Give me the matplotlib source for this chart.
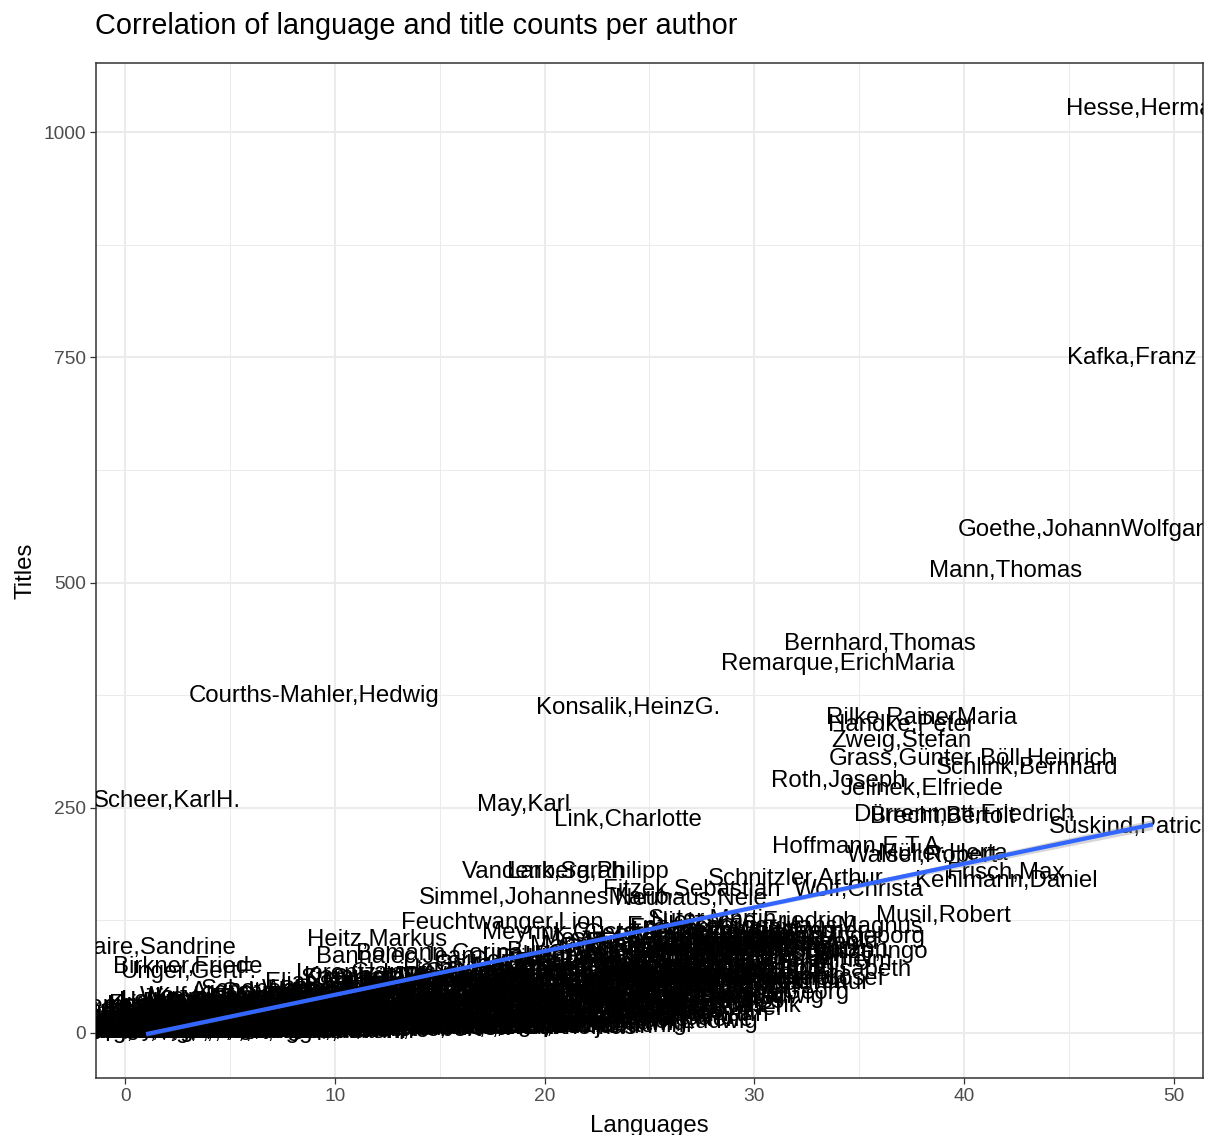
import numpy as np
import matplotlib.pyplot as plt

plt.rcParams['font.family'] = ['Liberation Sans', 'DejaVu Sans']

# authors whose labels stand out from the crowd
named_authors = [
    "Hesse,Hermann", "Kafka,Franz", "Goethe,JohannWolfgang", "Mann,Thomas",
    "Bernhard,Thomas", "Remarque,ErichMaria", "Courths-Mahler,Hedwig",
    "Konsalik,HeinzG.", "Rilke,RainerMaria", "Handke,Peter", "Zweig,Stefan",
    "Grass,Günter", "Böll,Heinrich", "Schlink,Bernhard", "Roth,Joseph",
    "Jelinek,Elfriede", "Dürrenmatt,Friedrich", "Brecht,Bertolt",
    "Süskind,Patrick", "Scheer,KarlH.", "May,Karl", "Link,Charlotte",
    "Hoffmann,E.T.A.", "Walser,Robert", "Müller,Herta", "Frisch,Max",
    "Kehlmann,Daniel", "Schnitzler,Arthur", "Wolf,Christa",
    "Vandenberg,Philipp", "Lark,Sarah", "Simmel,JohannesMario",
    "Fitzek,Sebastian", "Neuhaus,Nele", "Feuchtwanger,Lion", "Meyrink,Gustav",
    "Suter,Martin", "Musil,Robert", "Heitz,Markus", "Delaire,Sandrine",
    "Birkner,Friede", "Unger,GertF.", "Lorentz,Iny", "Bannalec,Jean-Luc",
    "Bomann,Corina", "Schulze,Ingo", "Bachmann,Ingeborg",
    "Enzensberger,HansMagnus", "Nietzsche,Friedrich", "Vermes,Timur",
    "Seethaler,Robert", "Erpenbeck,Jenny",
]
named_languages = [
    49, 48, 46, 42, 36, 34, 9, 24, 38, 37, 37, 37, 44, 43, 34, 38, 40, 39,
    48, 2, 19, 24, 35, 38, 39, 42, 42, 32, 35, 21, 21, 20, 27, 27, 18, 21,
    28, 39, 12, 1, 3, 3, 11, 14, 15, 35, 33, 31, 30, 32, 27, 27,
]
named_titles = [
    1026, 749, 558, 513, 432, 409, 374, 361, 350, 342, 324, 304, 304, 294,
    280, 271, 242, 240, 228, 257, 253, 236, 206, 196, 198, 177, 169, 171,
    159, 179, 179, 150, 159, 149, 122, 111, 125, 130, 103, 94, 73, 67, 65,
    84, 88, 90, 106, 117, 123, 55, 42, 67,
]

# the long tail of authors with few languages and titles
cluster_authors = [
    # 1 language
    "Andersch,Alfred", "Arjouni,Jakob", "Bachér,Ingrid", "Becker,Jurek",
    "Benn,Gottfried", "Bichsel,Peter", "Bienek,Horst", "Biermann,Wolf",
    "Bobrowski,Johannes", "Borchert,Wolfgang", "Born,Nicolas", "Braun,Volker",
    "Brussig,Thomas", "Lenz,Hermann", "Lehr,Thomas", "Liebmann,Irina",
    "Lange-Müller,Katja", "Kling,Thomas", "Kolbe,Uwe",
    # 2
    "Celan,Paul", "Dorst,Tankred", "Domin,Hilde", "Eich,Günter",
    "Fichte,Hubert", "Fleißer,Marieluise", "Franck,Julia", "Fried,Erich",
    "Fühmann,Franz", "Genazino,Wilhelm", "Goetz,Rainald", "Gstrein,Norbert",
    "Krechel,Ursula", "Kumpfmüller,Michael", "Lentz,Michael",
    "Mosebach,Martin", "Ostermaier,Albert",
    # 3
    "Hacks,Peter", "Hahn,Ulla", "Härtling,Peter", "Hein,Christoph",
    "Heißenbüttel,Helmut", "Hermann,Judith", "Heym,Stefan",
    "Hildesheimer,Wolfgang", "Hochhuth,Rolf", "Hohler,Franz", "Huchel,Peter",
    "Politycki,Matthias", "Rakusa,Ilma", "Schertenleib,Hansjörg",
    "Stadler,Arnold",
    # 4
    "Jandl,Ernst", "Johnson,Uwe", "Jünger,Ernst", "Kaschnitz,MarieLuise",
    "Kempowski,Walter", "Kirsch,Sarah", "Kluge,Alexander", "Koeppen,Wolfgang",
    "Streeruwitz,Marlene", "Wagner,Jan", "Zaimoglu,Feridun",
    # 5
    "Krausser,Helmut", "Kronauer,Brigitte", "Kunert,Günter", "Kunze,Reiner",
    "Lewitscharoff,Sibylle", "Loest,Erich", "Maron,Monika",
    "Mayröcker,Friederike", "Draesner,Ulrike", "Hettche,Thomas",
    "Kirchhoff,Bodo",
    # 6
    "Meckel,Christoph", "Menasse,Robert", "Moers,Walter", "Morgner,Irmtraud",
    "Nadolny,Sten", "Nossack,HansErich", "Peltzer,Ulrich", "Setz,ClemensJ.",
    # 7
    "Keyserling,Eduardvon", "Ortheil,HannsJosef", "Özdamar,EmineSevgi",
    "Plenzdorf,Ulrich", "Ransmayr,Christoph", "Richter,HansWerner",
    "Stangl,Thomas", "Steinaecker,Thomasvon",
    # 8
    "Rinser,Luise", "Rühmkorf,Peter", "Schädlich,HansJoachim", "Schami,Rafik",
    "Schlesinger,Klaus", "Schmidt,Arno", "Wolf,Ror", "Melle,Thomas",
    # 9
    "Kuhn,Dieter", "Schrott,Raoul", "Sebald,W.G.", "Seghers,Anna",
    "Strittmatter,Erwin", "Strauß,Botho", "Kermani,Navid",
    # 10
    "Timm,Uwe", "Treichel,HansUlrich", "Tellkamp,Uwe", "Walser,Martin",
    "Weiss,Peter", "Wellershoff,Dieter", "Röggla,Kathrin", "Roes,Michael",
    # 11 - 15
    "Wohmann,Gabriele", "Zeh,Juli", "Zuckmayer,Carl", "Zweig,Arnold",
    "Kästner,Erich", "Funke,Cornelia", "Ende,Michael", "Preußler,Otfried",
    "Boie,Kirsten",
    "Nöstlinger,Christine", "Pausewang,Gudrun", "Steinhöfel,Andreas",
    "Klüpfel,Volker", "Kobr,Michael",
    "Föhr,Andreas", "Falk,Rita", "Löhr,Robert", "Schätzing,Frank",
    "Noll,Ingrid", "Schenkel,AndreaMaria", "Raabe,Melanie",
    "Poznanski,Ursula",
    # 16 - 20
    "Arenz,Ewald", "Lind,Hera", "Hauptmann,Gerhart", "Fontane,Theodor",
    "Storm,Theodor",
    "Keller,Gottfried", "Heine,Heinrich", "Lessing,GottholdEphraim",
    "Kleist,Heinrichvon", "Büchner,Georg",
    "Hölderlin,Friedrich", "Novalis", "Eichendorff,Josephvon",
    "Mörike,Eduard",
    "Stifter,Adalbert", "Grillparzer,Franz", "Raabe,Wilhelm",
    "Hebbel,Friedrich",
    "Wedekind,Frank", "Hofmannsthal,Hugovon", "Trakl,Georg", "Werfel,Franz",
    # 21 - 25
    "Döblin,Alfred", "Tucholsky,Kurt", "Kraus,Karl", "Broch,Hermann",
    "Canetti,Elias", "Benjamin,Walter", "Morgenstern,Christian",
    "Busch,Wilhelm", "Ringelnatz,Joachim",
    "Lasker-Schüler,Else", "Heym,Georg", "Mann,Heinrich", "Mann,Klaus",
    "Wassermann,Jakob",
    "Polgar,Alfred", "Horváth,Ödönvon", "Toller,Ernst", "Kaiser,Georg",
    "Sternheim,Carl", "Keun,Irmgard", "Kolb,Annette", "Seidel,Ina",
    "Ebner-Eschenbach,Mariavon",
    # 26 - 32
    "Spyri,Johanna", "Gotthelf,Jeremias", "Meyer,ConradFerdinand",
    "Hauff,Wilhelm", "Grimm,Jacob",
    "Grimm,Wilhelm", "Bechstein,Ludwig", "Gerstäcker,Friedrich",
    "Ganghofer,Ludwig",
    "Marlitt,Eugenie", "Heyse,Paul", "Freytag,Gustav", "Sudermann,Hermann",
    "Fallada,Hans", "Kellermann,Bernhard", "Brod,Max", "Perutz,Leo",
    "Hohlbein,Wolfgang",
    "Wiechert,Ernst", "Carossa,Hans", "Bergengruen,Werner",
    "Kracht,Christian",
    "Jahnn,HansHenny", "Schneider,Reinhold",
    "Langgässer,Elisabeth", "Kasack,Hermann",
]
cluster_languages = (
    [1] * 19 + [2] * 17 + [3] * 15 + [4] * 11 + [5] * 11 + [6] * 8 + [7] * 8
    + [8] * 8 + [9] * 7 + [10] * 8
    + [11] * 4 + [12] * 5 + [13] * 5 + [14] * 4 + [15] * 4
    + [16] * 5 + [17] * 5 + [18] * 4 + [19] * 4 + [20] * 4
    + [21] * 4 + [22] * 5 + [23] * 5 + [24] * 4 + [25] * 5
    + [26] * 5 + [27] * 4 + [28] * 4 + [29] * 5 + [30] * 4 + [31] * 2
    + [32] * 2
)
cluster_titles = [
    2, 5, 1, 9, 14, 22, 3, 30, 7, 18, 11, 26, 4, 1, 3, 2, 6, 1, 4,
    1, 6, 13, 24, 3, 17, 9, 31, 2, 20, 5, 12, 1, 3, 2, 7, 1,
    2, 8, 28, 15, 4, 21, 34, 10, 1, 18, 6, 3, 1, 5, 2,
    3, 12, 38, 7, 24, 1, 16, 30, 5, 2, 9,
    5, 11, 20, 2, 35, 14, 27, 8, 3, 6, 1,
    4, 17, 29, 10, 22, 1, 3, 7,
    39, 6, 15, 25, 12, 2, 4, 1,
    31, 9, 19, 44, 3, 14, 2, 6,
    36, 7, 26, 40, 12, 4, 2,
    33, 8, 18, 47, 3, 13, 1, 5,
    22, 6, 38, 15,
    50, 28, 10, 42, 4,
    20, 35, 7, 54, 14,
    46, 24, 3, 60,
    30, 9, 52, 17,
    40, 62, 5, 26, 12,
    34, 70, 8, 48, 20,
    57, 14, 30, 6,
    42, 75, 10, 24,
    64, 36, 15, 50,
    82, 28, 12, 56,
    70, 40, 22, 90, 8,
    54, 32, 96, 18, 75,
    44, 86, 25, 62,
    100, 38, 70, 20, 55,
    80, 30, 104, 52, 66,
    92, 40, 110, 60,
    84, 50, 115, 72,
    100, 62, 88, 108, 112,
    76, 95, 112, 98,
    82, 100,
    70, 92,
]

# further authors in the middle of the crowd
more_authors = [
    "Rosendorfer,Herbert", "Danella,Utta", "Brückner,Christine",
    "Wolf,Klaus-Peter", "Kinkel,Tanja", "Gablé,Rebecca",
    "Hennen,Bernhard", "Schwanitz,Dietrich", "Precht,RichardDavid",
    "Sloterdijk,Peter",
    "Habermas,Jürgen", "Adorno,TheodorW.", "Horkheimer,Max", "Arendt,Hannah",
    "Heidegger,Martin", "Freud,Sigmund", "Marx,Karl", "Engels,Friedrich",
    "Kant,Immanuel", "Hegel,GeorgWilhelmFriedrich", "Schopenhauer,Arthur",
    "Jaspers,Karl",
    "Buber,Martin", "Fromm,Erich", "Jung,CarlGustav", "Elias,Norbert",
    "Luhmann,Niklas", "Weber,Max", "Simmel,Georg", "Kracauer,Siegfried",
    "Bloch,Ernst",
    "Spengler,Oswald", "Steiner,Rudolf", "Lenz,Siegfried", "Hoppe,Felicitas",
    "Herrndorf,Wolfgang", "Regener,Sven", "Kaminer,Wladimir",
    "Schirach,Ferdinandvon",
    "Kling,Marc-Uwe", "Stamm,Peter", "Bärfuss,Lukas", "Hürlimann,Thomas",
    "Muschg,Adolf",
    "Loher,Dea", "Widmer,Urs", "Walser,Alissa", "Glavinic,Thomas",
    "Haas,Wolf",
    "Köhlmeier,Michael", "Haushofer,Marlen", "Frischmuth,Barbara",
    "Turrini,Peter", "Roth,Gerhard",
    "Gauß,Karl-Markus", "Aichinger,Ilse", "Hackl,Erich", "Geiger,Arno",
    "Stanišić,Saša",
    "Beyer,Marcel", "Grünbein,Durs", "Hacker,Katharina", "Schalansky,Judith",
    "Kuckart,Judith",
    "Ruge,Eugen", "Seiler,Lutz", "Meyer,Clemens", "Hein,Jakob",
    "Rosenlöcher,Thomas", "Dückers,Tanja",
    "Illies,Florian", "Goosen,Frank", "Strunk,Heinz", "Kerkeling,Hape",
    "Jaud,Tommy",
    "Bronsky,Alina", "Hirsch,Eike", "Sparschuh,Jens", "Rothmann,Ralf",
    "Lebert,Benjamin", "Moritz,KarlPhilipp",
    "Wieland,ChristophMartin", "Klopstock,FriedrichGottlieb",
    "Herder,JohannGottfried", "Tieck,Ludwig", "Brentano,Clemens",
    "Arnim,Achimvon", "Chamisso,Adelbertvon", "Uhland,Ludwig",
    "Lenau,Nikolaus", "Droste-Hülshoff,Annettevon",
    "Grabbe,ChristianDietrich", "Nestroy,Johann", "Raimund,Ferdinand",
    "Immermann,Karl", "Gutzkow,Karl",
    "Reuter,Fritz", "Dahn,Felix", "Rosegger,Peter", "Anzengruber,Ludwig",
    "Dehmel,Richard",
    "Holz,Arno", "George,Stefan", "Altenberg,Peter", "Schickele,René",
    "Loerke,Oskar",
    "Sachs,Nelly", "Ausländer,Rose", "Doderer,Heimitovon",
    "Becher,JohannesR.", "Kant,Hermann",
    "Apitz,Bruno", "Bredel,Willi", "Hilbig,Wolfgang", "Kirsch,Rainer",
    "deBruyn,Günter",
    "Mickel,Karl", "Czechowski,Heinz", "Papenfuß,Bert", "Neutsch,Erik",
    "Bräunig,Werner", "Renn,Ludwig", "Plievier,Theodor", "Glaeser,Ernst",
    "Weinert,Erich", "Uhse,Bodo", "Kolmar,Gertrud", "Britting,Georg",
    "Lehmann,Wilhelm", "Weinheber,Josef", "Roth,Eugen",
]
more_languages = [
    4, 4, 4,
    5, 5, 5,
    6, 6, 6, 6,
    7, 7, 7, 7,
    8, 8, 8, 8,
    9, 9, 9, 9,
    10, 10, 10, 10,
    11, 11, 11, 11, 11,
    12, 12, 12, 12,
    13, 13, 13, 13,
    14, 14, 14, 14, 14,
    15, 15, 15, 15, 15,
    16, 16, 16, 16, 16,
    17, 17, 17, 17, 17,
    18, 18, 18, 18, 18,
    19, 19, 19, 19, 19, 19,
    20, 20, 20, 20, 20,
    21, 21, 21, 21, 21, 21,
    22, 22, 22, 22, 22,
    23, 23, 23, 23, 23,
    24, 24, 24, 24, 24,
    25, 25, 25, 25, 25,
    26, 26, 26, 26, 26,
    27, 27, 27, 27, 27,
    28, 28, 28, 28, 28,
    29, 29, 29, 29,
    30, 30, 30, 30,
    31, 31, 31, 31,
    32, 32, 32,
]
more_titles = [
    20, 33, 11,
    40, 16, 24,
    34, 13, 26, 5,
    30, 20, 9, 45,
    24, 38, 12, 28,
    18, 31, 48, 9,
    25, 40, 14, 55,
    9, 30, 46, 18, 3,
    36, 60, 22, 14,
    44, 28, 62, 5,
    37, 14, 52, 8, 28,
    42, 22, 4, 66, 35,
    48, 19, 33, 8, 56,
    27, 60, 14, 42, 5,
    38, 66, 21, 46, 10,
    30, 58, 16, 45, 5, 68,
    28, 80, 8, 42, 20,
    38, 66, 18, 48, 6, 72,
    30, 58, 15, 78, 46,
    24, 64, 10, 84, 40,
    34, 72, 16, 52, 94,
    26, 46, 84, 12, 64,
    22, 42, 92, 14, 60,
    28, 74, 50, 100, 20,
    34, 64, 92, 26, 104,
    40, 74, 54, 30,
    60, 40, 86, 104,
    56, 70, 92, 44,
    80, 60, 100,
]
assert len(named_authors) == len(named_languages) == len(named_titles)
assert len(cluster_authors) == len(cluster_languages) == len(cluster_titles)
assert len(more_authors) == len(more_languages) == len(more_titles)

# linear fit (lm) and its standard error band
fit_intercept = -6.3
fit_slope = 4.85
band_min = 1.5
band_max = 5.5

authors = named_authors + cluster_authors + more_authors
languages = np.array(named_languages + cluster_languages + more_languages,
                     dtype=float)
titles = np.array(named_titles + cluster_titles + more_titles, dtype=float)

fig = plt.figure(figsize=(12.12, 11.35), dpi=100)
ax = fig.add_axes([0.079, 0.0502, 0.9136, 0.8945])

# ggplot-like 5% expansion of the data range
xr = languages.max() - languages.min()
yr = titles.max() - titles.min()
ax.set_xlim(languages.min() - 0.05 * xr, languages.max() + 0.05 * xr)
ax.set_ylim(titles.min() - 0.05 * yr, titles.max() + 0.05 * yr)

ax.set_xticks(np.arange(0, 51, 10))
ax.set_xticks(np.arange(5, 50, 10), minor=True)
ax.set_yticks(np.arange(0, 1001, 250))
ax.set_yticks(np.arange(125, 1000, 250), minor=True)
ax.grid(which='major', color='#EBEBEB', linewidth=1.45)
ax.grid(which='minor', color='#EBEBEB', linewidth=0.7)
ax.set_axisbelow(True)
ax.tick_params(which='major', length=4.3, width=0.9, color='#333333',
               labelcolor='#4D4D4D', labelsize=13.8, pad=3)
ax.tick_params(which='minor', length=0)
for sp in ax.spines.values():
    sp.set_color('#333333')
    sp.set_linewidth(1.1)

for name, x, y in zip(authors, languages, titles):
    ax.text(x, y, name, ha='center', va='center', fontsize=17.3,
            color='black', clip_on=True)

xf = np.linspace(languages.min(), languages.max(), 100)
yf = fit_intercept + fit_slope * xf
xc = languages.mean()
half = band_min + (band_max - band_min) * ((xf - xc) / (languages.max() - xc)) ** 2
ax.fill_between(xf, yf - half, yf + half, color='#999999', alpha=0.4,
                linewidth=0, zorder=3)
ax.plot(xf, yf, color='#3366FF', linewidth=3.0, zorder=4,
        solid_capstyle='butt')

ax.set_xlabel('Languages', fontsize=17.3, labelpad=7)
ax.set_ylabel('Titles', fontsize=17.3, labelpad=5)
fig.text(95 / 1212, 1 - 26 / 1135,
         'Correlation of language and title counts per author',
         fontsize=20.8, va='center', ha='left')

fig.savefig('out.png', dpi=100)
